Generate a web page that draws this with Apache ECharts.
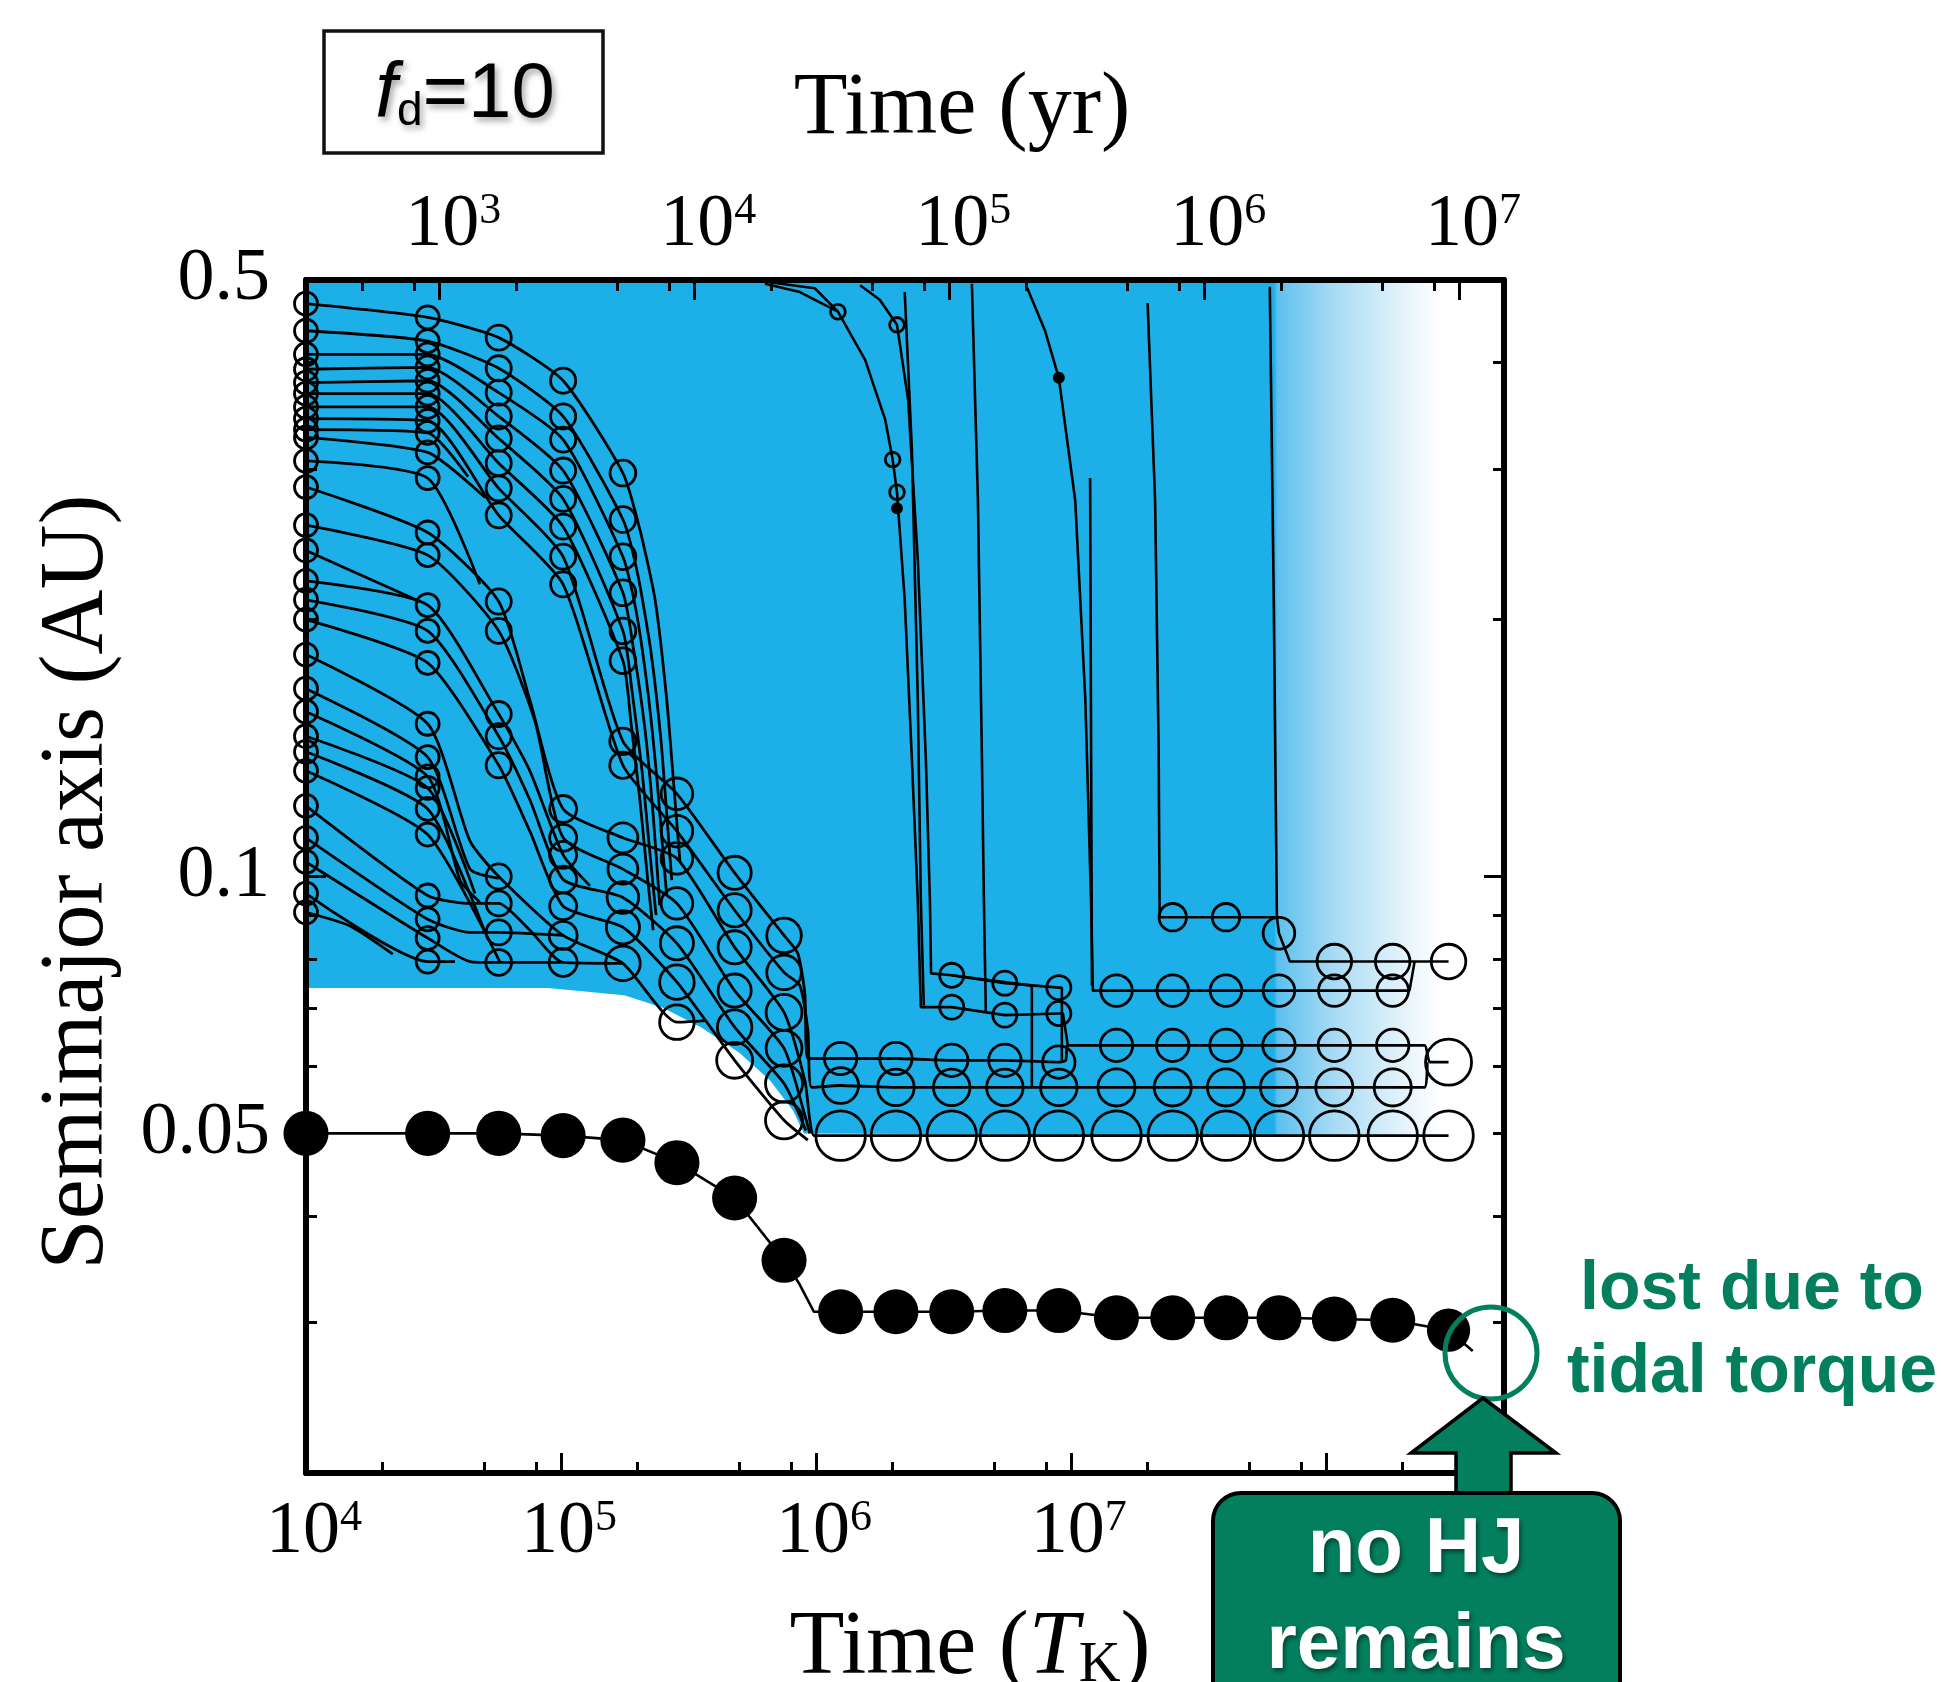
<!DOCTYPE html>
<html>
<head>
<meta charset="utf-8">
<script src="https://cdn.jsdelivr.net/npm/echarts@6/dist/echarts.min.js"></script>
<style>
  html, body { margin: 0; padding: 0; background: #fff; }
  #chart { width: 1941px; height: 1682px; }
</style>
</head>
<body>
<div id="chart"></div>
<script>
// ---- axes ----
const tMin = 1e4, tMax = 5e8;          // time in T_K
const aMin = 0.02, aMax = 0.5;         // semimajor axis in AU
const tkInYears = 0.030;               // one T_K in years (top axis)

const tkMajor = [1e4, 1e5, 1e6, 1e7, 1e8];
const tkLabels = [1e4, 1e5, 1e6, 1e7];
const tkMinor = [2e4, 5e4, 8e4, 2e5, 5e5, 8e5, 2e6, 5e6, 8e6, 2e7, 5e7, 8e7, 2e8];
const yrMajor = [1e3, 1e4, 1e5, 1e6, 1e7];
const yrMinor = [5e2, 8e2, 2e3, 5e3, 8e3, 2e4, 5e4, 8e4, 2e5, 5e5, 8e5, 2e6, 5e6, 8e6];
const aLabels = [0.5, 0.1, 0.05];
const aMajor = [0.1];
const aMinor = [0.03, 0.04, 0.05, 0.06, 0.07, 0.08, 0.09, 0.2, 0.3, 0.4];

// ---- inner edge of the blue band ----
const diskEdgeT = [1e4, 8.9e4, 1.77e5, 2.51e5, 3.54e5, 4.99e5, 6.6e5, 8.13e5, 8.98e5, 5e8];
const diskEdgeA = [0.0740, 0.0740, 0.0726, 0.0702, 0.0666, 0.0622, 0.0577, 0.0532, 0.0500, 0.0495];

// ---- planets: [time T_K, a AU, relative mass (0 = path point, no circle)] ----
const earlyPlanets = [
  [[1e4,0.469,1],[3.0e4,0.452,1],[5.7e4,0.428,1.3],[1.02e5,0.381,1.3],[1.75e5,0.297,1.4],[2.04e5,0.255,0],[2.34e5,0.211,0],[2.60e5,0.161,0],[2.80e5,0.123,0],[2.93e5,0.104,0]],
  [[1e4,0.436,1],[3.0e4,0.424,1],[5.7e4,0.394,1.3],[1.02e5,0.346,1.3],[1.75e5,0.262,1.4],[2.00e5,0.226,0],[2.25e5,0.184,0],[2.47e5,0.144,0],[2.63e5,0.113,0],[2.72e5,0.099,0]],
  [[1e4,0.409,1],[3.0e4,0.409,1],[5.7e4,0.369,1.3],[1.02e5,0.325,1.3],[1.75e5,0.237,1.4],[1.97e5,0.205,0],[2.19e5,0.165,0],[2.38e5,0.130,0],[2.53e5,0.104,0],[2.60e5,0.095,0]],
  [[1e4,0.393,1],[3.0e4,0.395,1],[5.7e4,0.346,1.3],[1.02e5,0.299,1.3],[1.75e5,0.215,1.4],[1.93e5,0.184,0],[2.14e5,0.148,0],[2.30e5,0.118,0],[2.44e5,0.0925,0]],
  [[1e4,0.379,1],[3.0e4,0.381,1],[5.7e4,0.326,1.3],[1.02e5,0.277,1.3],[1.75e5,0.194,1.4],[1.90e5,0.165,0],[2.08e5,0.133,0],[2.23e5,0.107,0],[2.36e5,0.0901,0]],
  [[1e4,0.368,1],[3.0e4,0.368,1],[5.7e4,0.305,1.3],[1.02e5,0.257,1.3],[1.75e5,0.179,1.4],[1.88e5,0.152,0],[2.04e5,0.123,0],[2.19e5,0.099,0],[2.30e5,0.0865,0]],
  [[1e4,0.355,1],[3.0e4,0.355,1],[5.7e4,0.285,1.3],[1.02e5,0.237,1.3],[1.75e5,0.144,1.5],[2.85e5,0.125,2.6],[4.8e5,0.101,3],[7.5e5,0.0853,3.4],[8.49e5,0.0813,0],[9.05e5,0.0729,0],[9.30e5,0.0612,0],
   [1.25e6,0.0612,2.8],[2.06e6,0.0612,2.8],[3.41e6,0.0609,2.8],[5.51e6,0.0609,2.8],[8.97e6,0.0606,2.8],[9.55e6,0.0609,0],[9.73e6,0.0634,0],
   [1.51e7,0.0634,2.8],[2.51e7,0.0634,2.8],[4.06e7,0.0634,2.8],[6.55e7,0.0634,2.8],[1.08e8,0.0634,2.8],[1.83e8,0.0634,2.8],[2.44e8,0.0634,0],[2.56e8,0.0606,0],[3.03e8,0.0606,8]],
  [[1e4,0.344,1],[3.0e4,0.342,1],[5.7e4,0.265,1.3],[1.02e5,0.220,1.3],[1.75e5,0.135,1.5],[2.85e5,0.113,2.6],[4.8e5,0.0913,3],[7.5e5,0.0772,3.4],[8.65e5,0.0745,0],[9.30e5,0.0660,0],[9.64e5,0.0566,0],
   [1.25e6,0.0569,3.8],[2.06e6,0.0566,4],[3.41e6,0.0566,4],[5.51e6,0.0566,4],[8.97e6,0.0566,4],[1.51e7,0.0566,4.2],[2.51e7,0.0566,4.2],[4.06e7,0.0566,4.2],
   [6.55e7,0.0566,4.2],[1.08e8,0.0566,4.2],[1.83e8,0.0566,4.2],[2.44e8,0.0566,0],[2.50e8,0.0606,0]],
  [[1e4,0.334,1],[3.0e4,0.331,1],[4.32e4,0.294,0]],
  [[1e4,0.327,1],[3.0e4,0.314,1],[5.04e4,0.278,0]],
  [[1e4,0.307,1],[3.0e4,0.293,1],[4.81e4,0.220,0]],
  [[1e4,0.286,1],[3.0e4,0.253,1],[5.7e4,0.210,1.3],[7.55e4,0.161,0],[1.02e5,0.120,1.6],[1.75e5,0.111,2.2],[2.85e5,0.105,2.6],[4.8e5,0.0826,3],[7.5e5,0.0693,3.8],[9.05e5,0.0577,0],[9.47e5,0.0518,0],[9.82e5,0.0497,0],
   [1.25e6,0.0497,10],[2.06e6,0.0497,10],[3.41e6,0.0497,10],[5.51e6,0.0497,10],[8.97e6,0.0497,10],[1.51e7,0.0497,10],[2.51e7,0.0497,10],[4.06e7,0.0497,10],
   [6.55e7,0.0497,10],[1.08e8,0.0497,10],[1.83e8,0.0497,10],[3.03e8,0.0497,10]],
  [[1e4,0.258,1],[3.0e4,0.238,1],[5.7e4,0.194,1.3],[7.91e4,0.152,0],[1.02e5,0.111,1.6],[1.75e5,0.102,2.2],[2.85e5,0.0930,2.6],[4.8e5,0.0735,3],[7.5e5,0.0629,3.8],[9.05e5,0.0525,0],[9.47e5,0.0500,0]],
  [[1e4,0.241,1],[2.80e4,0.210,0]],
  [[1e4,0.222,1],[3.0e4,0.208,1],[5.7e4,0.155,1.3],[7.55e4,0.133,0],[1.02e5,0.106,1.6],[1.30e5,0.0975,0]],
  [[1e4,0.211,1],[3.0e4,0.194,1],[5.7e4,0.146,1.3],[7.55e4,0.123,0],[1.02e5,0.0992,1.6],[1.75e5,0.0945,2.6],[2.85e5,0.0835,3],[4.8e5,0.0666,3.4],[7.5e5,0.0572,4.2],[9.14e5,0.0504,0]],
  [[1e4,0.200,1],[3.0e4,0.178,1],[5.7e4,0.135,1.3],[7.55e4,0.113,0],[1.02e5,0.0923,1.6],[1.75e5,0.0872,3],[2.85e5,0.0752,3.4],[4.8e5,0.0609,3.8],[7.5e5,0.0518,4.2],[9.30e5,0.0491,0]],
  [[1e4,0.182,1],[3.0e4,0.151,1],[4.40e4,0.110,0],[5.7e4,0.100,1.3],[1.02e5,0.0853,1.8],[1.75e5,0.0791,3.4],[2.85e5,0.0675,3.4],[3.67e5,0.0678,0]],
  [[1e4,0.166,1],[3.0e4,0.138,1],[4.40e4,0.102,0],[5.7e4,0.0995,0]],
  [[1e4,0.156,1],[3.0e4,0.131,1],[4.02e4,0.0990,0],[4.81e4,0.0933,0]],
  [[1e4,0.146,1],[3.0e4,0.127,1],[4.6e4,0.0955,0]],
  [[1e4,0.140,1],[3.0e4,0.120,1],[5.04e4,0.0860,0]],
  [[1e4,0.133,1],[3.0e4,0.112,1],[5.77e4,0.0793,0]],
  [[1e4,0.121,1],[3.0e4,0.0950,1],[4.40e4,0.0930,0],[5.7e4,0.0930,1.3],[7.55e4,0.0865,0],[1.02e5,0.0793,1.8],[1.75e5,0.0791,0]],
  [[1e4,0.111,1],[3.0e4,0.0891,1],[4.40e4,0.0860,0],[5.7e4,0.0860,1.3],[1.02e5,0.0853,0]],
  [[1e4,0.104,1],[3.0e4,0.0847,1],[4.40e4,0.0795,0],[5.7e4,0.0793,1.4],[1.0e5,0.0793,0]],
  [[1e4,0.0955,1],[3.0e4,0.0795,1],[3.84e4,0.0795,0]],
  [[1e4,0.0908,1],[1.49e4,0.0875,0],[2.19e4,0.0811,0]]
];

const latePlanets = [
  [[6.31e5,0.495,0],[8.65e5,0.484,0],[1.22e6,0.459,0.26],[1.56e6,0.403,0],[1.87e6,0.343,0],[2.00e6,0.308,0.26],[2.08e6,0.282,0.26],[2.23e6,0.211,0],[2.38e6,0.137,0],[2.51e6,0.0937,0],[2.58e6,0.0703,0],
   [3.41e6,0.0703,1.15],[5.51e6,0.0688,1.15],[8.97e6,0.0691,1.15],[9.31e6,0.0691,0],[9.73e6,0.0634,0]],
  [[1.49e6,0.493,0],[1.78e6,0.474,0],[2.08e6,0.443,0.26],[2.30e6,0.362,0],[2.51e6,0.235,0],[2.70e6,0.137,0],[2.80e6,0.0937,0],[2.83e6,0.0770,0],
   [3.41e6,0.0766,1.15],[5.51e6,0.0750,1.15],[8.97e6,0.0741,1.15],[9.22e6,0.0741,0],[9.22e6,0.0609,0]],
  [[3.41e6,0.0766,0],[7.03e6,0.0745,0],[7.03e6,0.0566,0]],
  [[2.23e6,0.484,0],[2.38e6,0.316,0],[2.51e6,0.161,0],[2.58e6,0.0937,0],[2.65e6,0.0706,0]],
  [[4.09e6,0.495,0],[4.32e6,0.276,0],[4.48e6,0.137,0],[4.56e6,0.0937,0],[4.64e6,0.0693,0]],
  [[6.71e6,0.491,0],[7.90e6,0.437,0],[8.97e6,0.384,0],[1.04e7,0.276,0],[1.14e7,0.161,0],[1.20e7,0.0937,0],[1.22e7,0.0735,0],
   [1.51e7,0.0735,2.6],[2.51e7,0.0735,2.6],[4.06e7,0.0735,2.6],[6.55e7,0.0735,2.6],[1.08e8,0.0735,2.6],[1.83e8,0.0735,2.6],[2.13e8,0.0735,0],[2.23e8,0.0795,0]],
  [[1.19e7,0.293,0],[1.21e7,0.0745,0]],
  [[2.00e7,0.470,0],[2.14e7,0.276,0],[2.21e7,0.141,0],[2.23e7,0.0896,0],[2.51e7,0.0896,1.7],[4.06e7,0.0896,1.7],[6.43e7,0.0896,0],[6.55e7,0.0858,2.6],
   [7.23e7,0.0795,0],[1.08e8,0.0795,3.4],[1.83e8,0.0795,3.4],[3.03e8,0.0795,3.4]],
  [[6.03e7,0.491,0],[6.25e7,0.211,0],[6.43e7,0.0896,0]],
  [[6.6e5,0.497,0],[9.9e5,0.489,0],[1.22e6,0.459,0]]
];
const smallFilled = [[2.08e6, 0.270], [8.97e6, 0.384]];

// hot Jupiter (filled dots)
const hotJupiter = [
  [1e4,0.0500,8.6],[3.0e4,0.0500,8.6],[5.7e4,0.0500,8.6],[1.02e5,0.0497,8.6],[1.75e5,0.0491,8.6],[2.85e5,0.0462,8.6],[4.8e5,0.0420,8.6],[7.5e5,0.0355,8.6],
  [8.57e5,0.0334,0],[9.82e5,0.0309,0],[1.25e6,0.0309,8.6],[2.06e6,0.0309,8.6],[3.41e6,0.0309,8.6],[5.51e6,0.0310,8.6],[8.97e6,0.0310,8.6],
  [1.51e7,0.0304,8.6],[2.51e7,0.0304,8.6],[4.06e7,0.0304,8.6],[6.55e7,0.0304,8.6],[1.08e8,0.0303,8.6],[1.83e8,0.0302,8.6],[3.03e8,0.0294,7.6],[3.77e8,0.0278,0]
];

// ---- build ----
const lg = Math.log10;
const xy = p => [lg(p[0]), lg(p[1])];
const symSize = v => 23 * Math.cbrt(v[2]);
const serif = 'Liberation Serif';
const sans = 'Liberation Sans';
const green = '#037F5E';

const series = [];
series.push({
  type: 'line', z: 1, silent: true, symbol: 'none',
  data: diskEdgeT.map((t, i) => [lg(t), lg(diskEdgeA[i])]),
  lineStyle: { width: 0 },
  areaStyle: {
    origin: 'end', opacity: 1,
    color: new echarts.graphic.LinearGradient(0, 0, 1, 0, [
      { offset: 0, color: '#1DB0E8' },
      { offset: 0.808, color: '#1DB0E8' },
      { offset: 0.811, color: '#5EC0EE' },
      { offset: 0.857, color: '#A6DAF4' },
      { offset: 0.899, color: '#D2ECF9' },
      { offset: 0.925, color: '#EDF7FC' },
      { offset: 0.948, color: '#FFFFFF' },
      { offset: 1, color: '#FFFFFF' }
    ])
  }
});

earlyPlanets.forEach(tr => {
  series.push({
    type: 'line', z: 2, silent: true, symbol: 'none', smooth: 0.2,
    data: tr.map(xy),
    lineStyle: { color: '#000', width: 2.8 }
  });
});
latePlanets.forEach(tr => {
  series.push({
    type: 'line', z: 2, silent: true, symbol: 'none',
    data: tr.map(xy),
    lineStyle: { color: '#000', width: 2.6 }
  });
});

const circles = [];
earlyPlanets.concat(latePlanets).forEach(tr => tr.forEach(p => {
  if (p[2] > 0) circles.push([lg(p[0]), lg(p[1]), p[2]]);
}));
series.push({
  type: 'scatter', z: 3, silent: true, symbol: 'circle',
  data: circles, symbolSize: symSize,
  itemStyle: { color: 'rgba(0,0,0,0)', borderColor: '#000', borderWidth: 2.8, opacity: 1 }
});
series.push({
  type: 'scatter', z: 3, silent: true, symbol: 'circle', symbolSize: 12,
  data: smallFilled.map(xy), itemStyle: { color: '#000', opacity: 1 }
});
series.push({
  type: 'line', z: 4, silent: true, symbol: 'none',
  data: hotJupiter.map(xy), lineStyle: { color: '#000', width: 2.6 }
});
series.push({
  type: 'scatter', z: 5, silent: true, symbol: 'circle',
  data: hotJupiter.filter(p => p[2] > 0).map(p => [lg(p[0]), lg(p[1]), p[2]]),
  symbolSize: v => 22 * Math.cbrt(v[2]), itemStyle: { color: '#000', opacity: 1 }
});

// ---- axes ----
const supRich = {
  b: { fontFamily: serif, fontSize: 74, lineHeight: 74, color: '#000' },
  s: { fontFamily: serif, fontSize: 44, lineHeight: 44, verticalAlign: 'top', color: '#000' }
};
const supFormatter = v => '{b|10}{s|' + Math.round(v) + '}';
const tickStyle = { color: '#000', width: 3 };
const noSplit = { show: false };

function xAxisDef(pos, min, max, major, minor, labels, margin, pad) {
  return [
    {
      type: 'value', position: pos, min, max, z: 10,
      axisLine: { show: true, onZero: false, lineStyle: { color: '#000', width: 6 } },
      axisTick: { show: true, inside: true, length: 20, lineStyle: tickStyle, customValues: major },
      axisLabel: { show: true, margin, padding: pad, formatter: supFormatter, rich: supRich, customValues: labels },
      splitLine: noSplit
    },
    {
      type: 'value', position: pos, min, max, z: 10,
      axisLine: { show: false },
      axisTick: { show: true, inside: true, length: 11, lineStyle: tickStyle, customValues: minor },
      axisLabel: { show: false },
      splitLine: noSplit
    }
  ];
}
function yAxisDef(pos, showLabels) {
  return [
    {
      type: 'value', position: pos, min: lg(aMin), max: lg(aMax), z: 10,
      axisLine: { show: true, onZero: false, lineStyle: { color: '#000', width: 6 } },
      axisTick: { show: true, inside: true, length: 20, lineStyle: tickStyle, customValues: aMajor.map(lg) },
      axisLabel: {
        show: showLabels, margin: 36, padding: [0, 0, 18, 0],
        fontFamily: serif, fontSize: 74, color: '#000',
        customValues: aLabels.map(lg),
        formatter: v => { const a = Math.pow(10, v); return a >= 0.1 ? a.toFixed(1) : a.toFixed(2); }
      },
      splitLine: noSplit
    },
    {
      type: 'value', position: pos, min: lg(aMin), max: lg(aMax), z: 10,
      axisLine: { show: false },
      axisTick: { show: true, inside: true, length: 11, lineStyle: tickStyle, customValues: aMinor.map(lg) },
      axisLabel: { show: false },
      splitLine: noSplit
    }
  ];
}

const xAxes = xAxisDef('bottom', lg(tMin), lg(tMax), tkMajor.map(lg), tkMinor.map(lg), tkLabels.map(lg), 23, [0, 0, 0, 16])
  .concat(xAxisDef('top', lg(tMin * tkInYears), lg(tMax * tkInYears), yrMajor.map(lg), yrMinor.map(lg), yrMajor.map(lg), 17, [0, 0, 0, 28]));
const yAxes = yAxisDef('left', true).concat(yAxisDef('right', false));

const chart = echarts.init(document.getElementById('chart'));
chart.setOption({
  animation: false,
  backgroundColor: '#fff',
  grid: { left: 306, top: 280, width: 1198, height: 1193, containLabel: false },
  xAxis: xAxes,
  yAxis: yAxes,
  series: series.map(s => Object.assign({ xAxisIndex: 0, yAxisIndex: 0 }, s)),
  graphic: [
    // f_d = 10 box
    { type: 'rect', shape: { x: 324, y: 31, width: 279, height: 122 }, style: { fill: 'none', stroke: '#111', lineWidth: 3.5 } },
    {
      type: 'text', x: 465, y: 135,
      style: {
        text: '{i|f}{d|d}{n|=10}', align: 'center', verticalAlign: 'bottom',
        rich: {
          i: { fontFamily: sans, fontStyle: 'italic', fontSize: 78, lineHeight: 80, fill: '#000' },
          d: { fontFamily: sans, fontSize: 46, lineHeight: 46, verticalAlign: 'bottom', fill: '#000' },
          n: { fontFamily: sans, fontSize: 78, lineHeight: 80, fill: '#000' }
        },
        textShadowColor: 'rgba(0,0,0,0.35)', textShadowBlur: 6, textShadowOffsetX: 3, textShadowOffsetY: 4
      }
    },
    // axis titles
    { type: 'text', x: 962, y: 110, style: { text: 'Time (yr)', font: '88px "Liberation Serif"', fill: '#000', align: 'center', verticalAlign: 'middle' } },
    {
      type: 'text', x: 970, y: 1649,
      style: {
        text: '{n|Time (}{t|T}{k|K}{n|)}', align: 'center', verticalAlign: 'middle',
        rich: {
          n: { fontFamily: serif, fontSize: 90, lineHeight: 92, fill: '#000' },
          t: { fontFamily: serif, fontStyle: 'italic', fontSize: 90, lineHeight: 92, fill: '#000' },
          k: { fontFamily: serif, fontSize: 58, lineHeight: 56, verticalAlign: 'bottom', fill: '#000' }
        }
      }
    },
    { type: 'text', x: 78, y: 882, rotation: Math.PI / 2, style: { text: 'Semimajor axis (AU)', font: '90px "Liberation Serif"', fill: '#000', align: 'center', verticalAlign: 'middle' } },
    // annotation: lost HJ
    { type: 'circle', shape: { cx: 1491, cy: 1353, r: 46 }, style: { fill: 'none', stroke: green, lineWidth: 5 }, z: 20 },
    { type: 'text', x: 1752, y: 1290, style: { text: 'lost due to', font: 'bold 68px "Liberation Sans"', fill: green, align: 'center', verticalAlign: 'middle' } },
    { type: 'text', x: 1752, y: 1373, style: { text: 'tidal torque', font: 'bold 68px "Liberation Sans"', fill: green, align: 'center', verticalAlign: 'middle' } },
    {
      type: 'polygon', z: 20,
      shape: { points: [[1483, 1398], [1556, 1453], [1511, 1453], [1511, 1500], [1456, 1500], [1456, 1453], [1411, 1453]] },
      style: { fill: green, stroke: '#000', lineWidth: 3.5 }
    },
    { type: 'rect', z: 21, shape: { x: 1213, y: 1493, width: 407, height: 230, r: 28 }, style: { fill: green, stroke: '#000', lineWidth: 4 } },
    {
      type: 'text', z: 22, x: 1416, y: 1550,
      style: { text: 'no HJ', font: 'bold 78px "Liberation Sans"', fill: '#fff', align: 'center', verticalAlign: 'middle',
        textShadowColor: 'rgba(0,0,0,0.45)', textShadowBlur: 4, textShadowOffsetX: 2, textShadowOffsetY: 3 }
    },
    {
      type: 'text', z: 22, x: 1416, y: 1646,
      style: { text: 'remains', font: 'bold 78px "Liberation Sans"', fill: '#fff', align: 'center', verticalAlign: 'middle',
        textShadowColor: 'rgba(0,0,0,0.45)', textShadowBlur: 4, textShadowOffsetX: 2, textShadowOffsetY: 3 }
    }
  ]
});
</script>
</body>
</html>
